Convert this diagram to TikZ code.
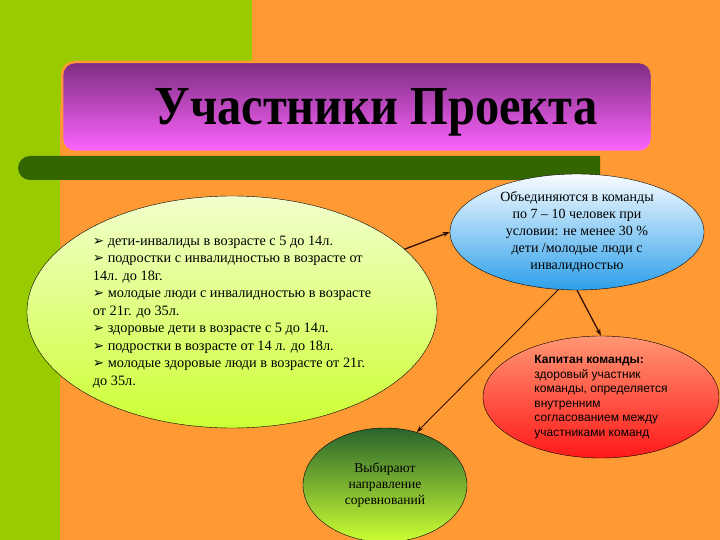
\documentclass[tikz,border=0pt]{standalone}
\usepackage{fontspec}
\setmainfont{Liberation Serif}
\newfontfamily\arialfont{Liberation Sans}
\newfontfamily\symfont{DejaVu Sans}
\usetikzlibrary{shapes.geometric,arrows.meta}
\definecolor{bgorange}{RGB}{255,153,51}
\definecolor{leafgreen}{RGB}{153,204,0}
\definecolor{bargreen}{RGB}{51,102,0}
\definecolor{linkbrown}{RGB}{51,17,0}
\newcommand{\pnt}{{\symfont\fontsize{13.5}{13.5}\selectfont ➢}\ }
\begin{document}
\begin{tikzpicture}[x=1pt,y=-1pt,
  oval/.style={draw=black, ellipse, inner sep=0pt},
  link/.style={draw=linkbrown, line width=1.3pt, -{Stealth[length=7pt,width=5pt]}}]
\useasboundingbox (0,0) rectangle (720,540);
% background
\fill[bgorange] (0,0) rectangle (720,540);
\fill[leafgreen] (0,0) rectangle (252,107);
\fill[leafgreen] (0,0) rectangle (60,540);
% title
\node[draw=bgorange, line width=2.5pt, rounded corners=13pt,
  top color={rgb,255:red,125;green,45;blue,130}, bottom color={rgb,255:red,255;green,100;blue,255},
  minimum width=590pt, minimum height=90pt] (titlebox) at (357,107) {};
\node (title) at (376,112) {\scalebox{0.88}[1]{\fontsize{55}{55}\selectfont\bfseries Участники Проекта}};
\fill[bargreen] (600,156) [rounded corners=12pt] -- (18,156) -- (18,180) [sharp corners] -- (600,180) -- cycle;
% ovals
\node[oval, top color={rgb,255:red,242;green,255;blue,205}, bottom color={rgb,255:red,204;green,255;blue,51},
  minimum width=410pt, minimum height=232pt, align=left,
  font=\fontsize{14.3}{17.5}\selectfont] (members) at (232,312) {%
  \pnt дети-инвалиды в возрасте с 5 до 14л.\\
  \pnt подростки с инвалидностью в возрасте от\\
  14л. до 18г.\\
  \pnt молодые люди с инвалидностью в возрасте\\
  от 21г. до 35л.\\
  \pnt здоровые дети в возрасте с 5 до 14л.\\
  \pnt подростки в возрасте от 14 л. до 18л.\\
  \pnt молодые здоровые люди в возрасте от 21г.\\
  до 35л.};
\node[oval, top color={rgb,255:red,248;green,252;blue,255}, bottom color={rgb,255:red,45;green,160;blue,235},
  minimum width=254pt, minimum height=116pt, align=center,
  font=\fontsize{14}{17}\selectfont] (teams) at (577,232) {%
  Объединяются в команды\\ по 7 – 10 человек при\\ условии: не менее 30 \%\\
  дети /молодые люди с\\ инвалидностью};
\node[oval, top color={rgb,255:red,255;green,150;blue,115}, bottom color={rgb,255:red,255;green,25;blue,25},
  minimum width=236pt, minimum height=122pt, align=left,
  font=\arialfont\fontsize{12}{14.5}\selectfont] (captain) at (601,397) {%
  \textbf{Капитан команды:}\\ здоровый участник\\ команды, определяется\\
  внутренним\\ согласованием между\\ участниками команд};
\node[oval, top color={rgb,255:red,40;green,100;blue,45}, bottom color={rgb,255:red,204;green,255;blue,51},
  minimum width=164pt, minimum height=114pt, align=center,
  font=\fontsize{13.6}{16}\selectfont] (choice) at (385,485) {%
  Выбирают\\ направление\\ соревнований};
% connectors
\draw[link] (members.20) -- (teams.180);
\draw[link] (teams.270) -- (captain.90);
\draw[link, line width=0.9pt] (teams.252) -- (choice.59);
\end{tikzpicture}
\end{document}
